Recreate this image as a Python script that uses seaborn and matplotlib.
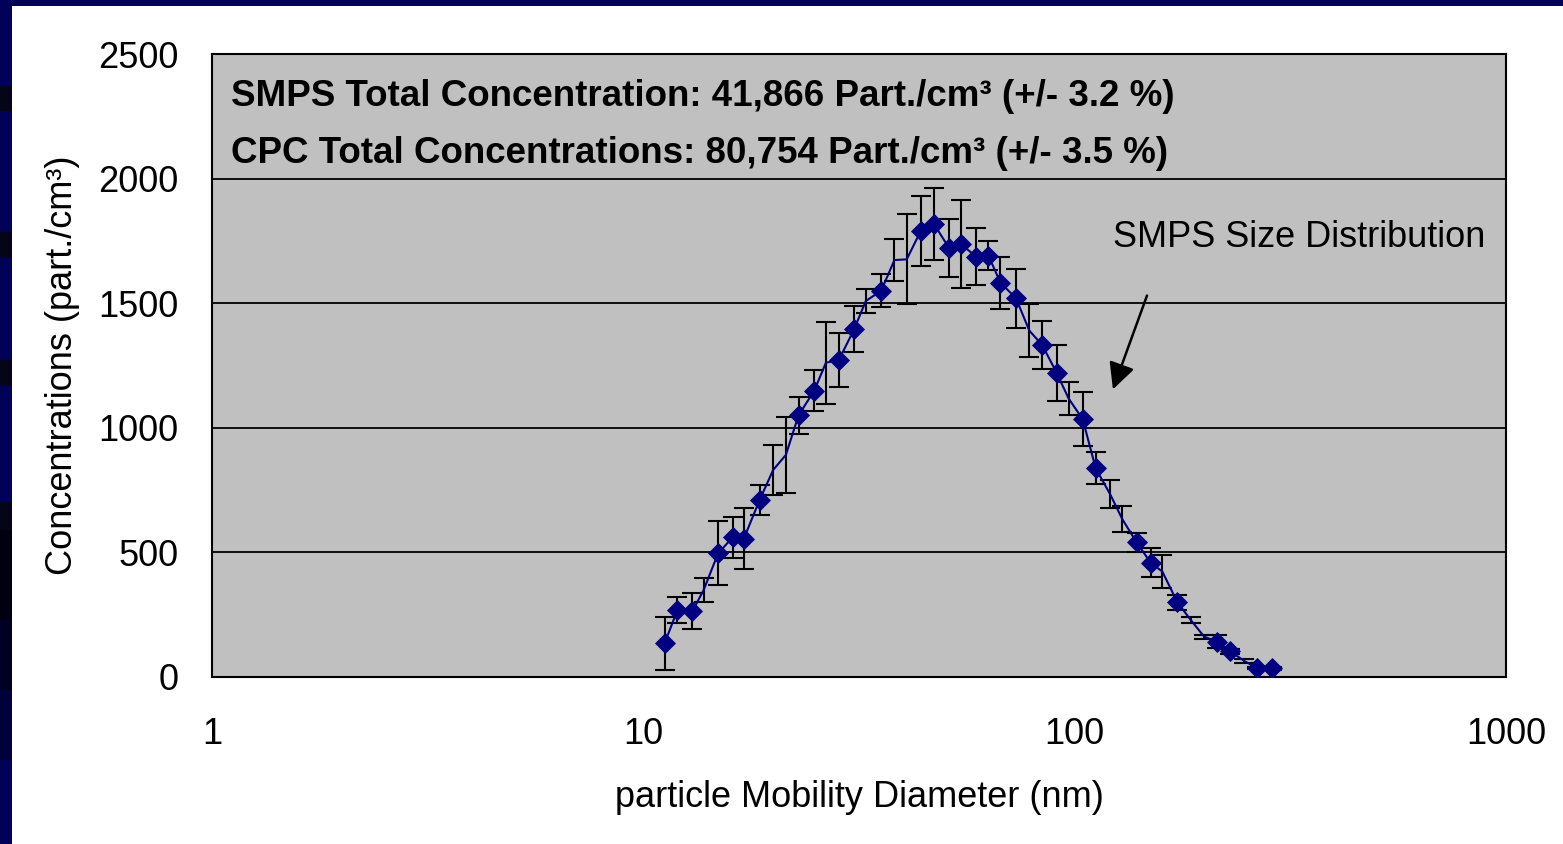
import numpy as np
import pandas as pd
import seaborn as sns
import matplotlib.pyplot as plt
from matplotlib.patches import Rectangle

# particle mobility diameter (nm), concentration (part./cm3), +/- error
diameter = [11.2, 12.0, 13.0, 13.8, 14.9, 16.1, 17.1, 18.6, 20.0, 21.4,
            22.9, 24.9, 26.5, 28.4, 30.8, 32.8, 35.6, 38.2, 40.8, 44.0,
            47.2, 51.1, 54.4, 59.1, 63.1, 67.3, 73.1, 78.5, 84.1, 90.8,
            96.8, 104.4, 111.9, 120.8, 129.0, 139.2, 150.0, 159.7, 173.0, 185.8,
            199.6, 213.5, 229.0, 247.5, 264.0, 286.0]
conc = [135, 269, 265, 349, 496, 560, 555, 710, 831, 891,
        1050, 1149, 1261, 1272, 1395, 1509, 1550, 1673, 1676, 1791,
        1818, 1722, 1738, 1687, 1691, 1582, 1520, 1390, 1332, 1221,
        1118, 1034, 837, 734, 633, 540, 459, 423, 300, 229,
        162, 142, 104, 64, 37, 35]
err = [107, 52, 72, 47, 128, 84, 122, 59, 100, 153,
       75, 83, 165, 108, 92, 49, 67, 84, 180, 141,
       145, 117, 177, 114, 57, 104, 118, 105, 95, 112,
       66, 108, 64, 56, 52, 38, 59, 67, 30, 13,
       8, 27, 10, 8, 5, 5]
# points drawn with a diamond marker in the original
marked = [1, 1, 1, 0, 1, 1, 1, 1, 0, 0,
          1, 1, 0, 1, 1, 0, 1, 0, 0, 1,
          1, 1, 1, 1, 1, 1, 1, 0, 1, 1,
          0, 1, 1, 0, 0, 1, 1, 0, 1, 0,
          0, 1, 1, 0, 1, 1]

df = pd.DataFrame({'d': diameter, 'c': conc, 'e': err, 'm': marked})

navy = '#000080'
W, H = 1563, 844

sns.set_style('white')
plt.rcParams['font.family'] = ['Liberation Sans', 'DejaVu Sans']
plt.rcParams['text.color'] = 'black'
plt.rcParams['axes.labelcolor'] = 'black'
plt.rcParams['xtick.color'] = 'black'
plt.rcParams['ytick.color'] = 'black'

fig = plt.figure(figsize=(W / 100, H / 100), dpi=100)
fig.patch.set_facecolor('#000058')


def band(y0, y1, color, x0=0, x1=12):
    # rectangle in pixel coords (top-left origin)
    fig.patches.append(Rectangle((x0 / W, 1 - y1 / H), (x1 - x0) / W, (y1 - y0) / H,
                                 transform=fig.transFigure, facecolor=color,
                                 edgecolor='none', zorder=-5))


# dark stripes of the slide background on the left edge
for y0, y1 in [(86, 111), (232, 258), (360, 386), (502, 530)]:
    band(y0, y1, '#05051a')
band(530, 620, '#000010')
band(620, 690, '#000024')
band(690, 760, '#00003c')
# white slide area
band(6, H, 'white', x0=12, x1=W)

ax = fig.add_axes([212 / W, 1 - 677 / H, 1294 / W, 623 / H])
ax.set_zorder(2)
ax.set_facecolor('#C0C0C0')

ax.errorbar(df['d'], df['c'], yerr=df['e'], fmt='none', ecolor='black',
            elinewidth=1.5, capsize=7, capthick=1.5, zorder=2)
sns.lineplot(data=df, x='d', y='c', color=navy, linewidth=1.5, ax=ax, zorder=3,
             estimator=None, sort=False)
sns.scatterplot(data=df[df['m'] == 1], x='d', y='c', marker='D', s=115, color=navy,
                edgecolor=navy, linewidth=0, ax=ax, zorder=4)

ax.set_xscale('log')
ax.set_xlim(1, 1000)
ax.set_ylim(0, 2500)
ax.set_xticks([1, 10, 100, 1000])
ax.set_xticklabels(['1', '10', '100', '1000'])
ax.set_yticks([0, 500, 1000, 1500, 2000, 2500])
ax.minorticks_off()
ax.yaxis.grid(True, color='black', linewidth=1.3)
ax.set_axisbelow(True)
for s in ax.spines.values():
    s.set_color('black')
    s.set_linewidth(1.5)
ax.tick_params(axis='both', which='major', direction='out', length=9, width=1.5,
               color='black', labelsize=26, labelcolor='black')
ax.tick_params(axis='y', pad=15)
ax.tick_params(axis='x', pad=20)

ax.set_xlabel('particle Mobility Diameter (nm)', fontsize=26, labelpad=20)
ax.set_ylabel('Concentrations (part./cm³)', fontsize=26, labelpad=13)

ax.text(0.0147, 0.931, 'SMPS Total Concentration: 41,866 Part./cm³ (+/- 3.2 %)',
        transform=ax.transAxes, fontsize=26.5, fontweight='bold', va='center', ha='left')
ax.text(0.0147, 0.841, 'CPC Total Concentrations: 80,754 Part./cm³ (+/- 3.5 %)',
        transform=ax.transAxes, fontsize=26.5, fontweight='bold', va='center', ha='left')
ax.text(0.696, 0.706, 'SMPS Size Distribution', transform=ax.transAxes,
        fontsize=26, va='center', ha='left')
ax.annotate('', xy=(0.6955, 0.4575), xytext=(0.7233, 0.6164), xycoords='axes fraction',
            arrowprops=dict(arrowstyle='-|>', color='black', lw=1.8, mutation_scale=40))

fig.savefig('out.png', dpi=100, facecolor=fig.get_facecolor())
